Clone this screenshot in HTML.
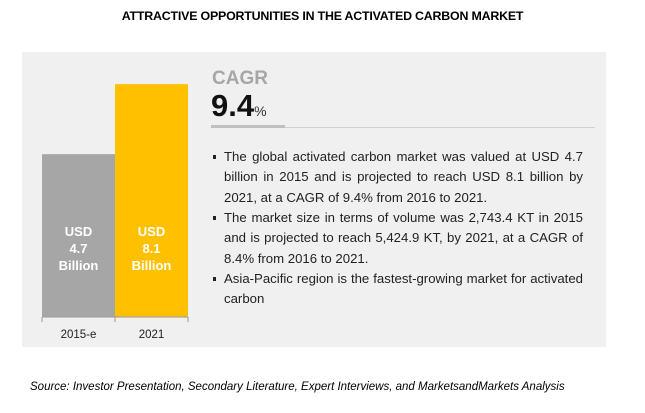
<!DOCTYPE html>
<html><head><meta charset="utf-8"><style>
body{margin:0;width:645px;height:413px;background:#fff;font-family:"Liberation Sans",sans-serif;position:relative;overflow:hidden}
.a{position:absolute}
.title{left:0;width:645px;top:9px;text-align:center;font-weight:bold;font-size:12.4px;color:#000;letter-spacing:-0.2px}
.panel{left:22px;top:52px;width:584px;height:295px;background:#f0f0f0}
.bul{left:211px;width:359px;font-size:13.2px;color:#222;line-height:20.3px;text-align:justify;padding-left:13px}
.bul::before{content:"";position:absolute;left:2px;top:8px;width:3px;height:4px;background:#222}
.src{left:30px;top:381px;font-size:11.5px;font-style:italic;color:#000}
</style></head><body>
<div class="a title">ATTRACTIVE OPPORTUNITIES IN THE ACTIVATED CARBON MARKET</div>
<div class="a panel"></div>
<svg class="a" style="left:0;top:0" width="645" height="413" id="chart"></svg>
<div class="a" style="left:212px;top:68px;font-size:19px;font-weight:bold;color:#a6a6a6">CAGR</div>
<div class="a" style="left:211px;top:88px;font-size:31px;font-weight:bold;color:#111">9.4<span style="font-size:14px;font-weight:normal;color:#333">%</span></div>
<div class="a" style="left:211px;top:125px;width:74px;height:3px;background:#bfbfbf"></div>
<div class="a" style="left:285px;top:127px;width:310px;height:1px;background:#d0d0d0"></div>
<div class="a bul" style="top:147px">The global activated carbon market was valued at USD 4.7 billion in 2015 and is projected to reach USD 8.1 billion by 2021, at a CAGR of 9.4% from 2016 to 2021.</div>
<div class="a bul" style="top:208px">The market size in terms of volume was 2,743.4 KT in 2015 and is projected to reach 5,424.9 KT, by 2021, at a CAGR of 8.4% from 2016 to 2021.</div>
<div class="a bul" style="top:269px">Asia-Pacific region is the fastest-growing market for activated carbon</div>
<div class="a src">Source: Investor Presentation, Secondary Literature, Expert Interviews, and MarketsandMarkets Analysis</div>
<script>
const categories=["2015-e","2021"];
const values=[4.7,8.1];
const valueLabels=[["USD","4.7","Billion"],["USD","8.1","Billion"]];
const colors=["#a6a6a6","#ffc000"];
const NS="http://www.w3.org/2000/svg";
const svg=document.getElementById('chart');
const base=317, x0=42, bw=73;
function y(v){return base-(66+20.6*v);}
function xb(i){return x0+i*bw;}
function mk(t,a){const e=document.createElementNS(NS,t);for(const k in a)e.setAttribute(k,a[k]);svg.appendChild(e);return e;}
categories.forEach((c,i)=>{
  const r=mk('rect',{x:xb(i),y:y(values[i]),width:bw,height:base-y(values[i]),fill:colors[i]});
  
  
  valueLabels[i].forEach((s,j)=>{
    const t=mk('text',{x:xb(i)+bw/2,y:236+j*17,'text-anchor':'middle','font-size':'13','font-weight':'bold',fill:'#fff','font-family':'Liberation Sans, sans-serif'});
    t.textContent=s;
    
    
  });
  const l=mk('text',{x:xb(i)+bw/2,y:338,'text-anchor':'middle','font-size':'11.5',fill:'#222','font-family':'Liberation Sans, sans-serif'});
  l.textContent=c;
  
  
});
const ax=mk('line',{x1:x0,x2:x0+categories.length*bw,y1:base,y2:base,stroke:'#999','stroke-width':1});


for(let i=0;i<=categories.length;i++){
  const tk=mk('line',{x1:xb(i),x2:xb(i),y1:base,y2:base+5,stroke:'#999'});
  
  
}
</script>
</body></html>
